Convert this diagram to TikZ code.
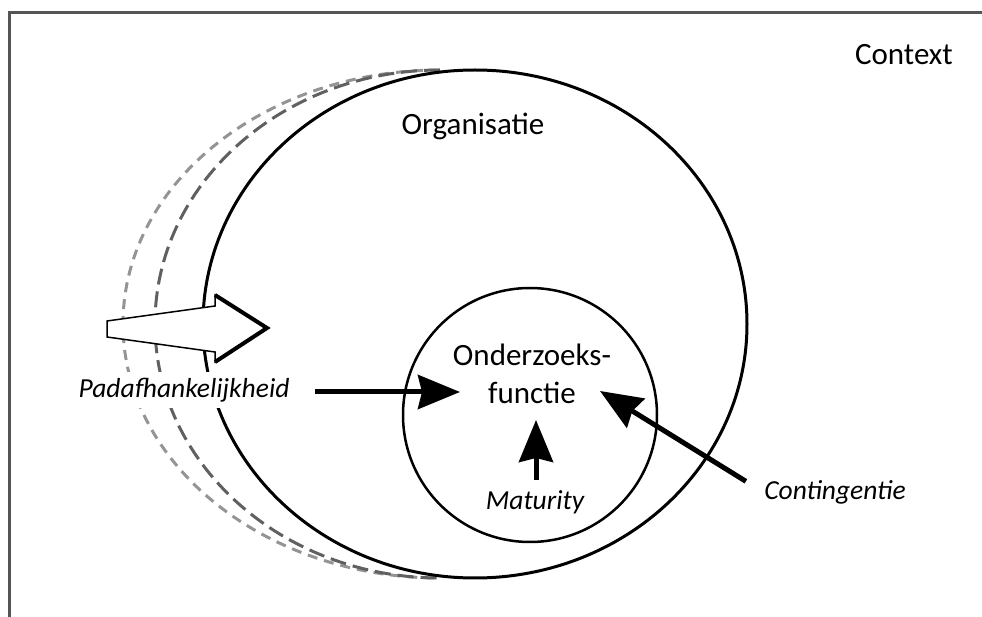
\documentclass[tikz,border=0pt]{standalone}
\usepackage{fontspec}
\setmainfont{Carlito}
\usetikzlibrary{arrows.meta}
\definecolor{kader}{HTML}{555555}
\definecolor{donker}{HTML}{606060}
\definecolor{licht}{HTML}{949494}

\begin{document}
\begin{tikzpicture}[x=0.5pt, y=0.5pt,
    label/.style={inner sep=0pt, font=\fontsize{15.5}{19}\selectfont},
    schuin/.style={inner sep=0pt, font=\fontsize{13.75}{16}\selectfont\itshape},
    pijl/.style={line width=2.5pt, -{Stealth[length=21pt, width=17pt, inset=2pt]}}]
      \useasboundingbox (0,0) rectangle (982,617);
      \draw [kader, line width=1.5pt] (9.5,0) -- (9.5,604.5) -- (982,604.5);

      % paths of the organisation in the past
      \draw [licht, line width=1.5pt, dash pattern=on 5pt off 3.5pt] (440,547) arc [start angle=90, end angle=270, x radius=317, y radius=254];
      \draw [donker, line width=1.5pt, dash pattern=on 8pt off 3.5pt] (440,547) arc [start angle=90, end angle=270, x radius=285, y radius=254];

      \draw [line width=1.5pt] (475,293) ellipse [x radius=272, y radius=254];
      \draw [line width=1.25pt] (530,202) circle [radius=127];

      % block arrow
      \draw [fill=white, line width=0.75pt] (107,296) -- (215,311) -- (215,322) -- (267,289) -- (215,255) -- (215,265) -- (107,280) -- cycle;
      \draw [line width=2pt, miter limit=10] (215,322) -- (267,289) -- (215,255);

      \node [label] (ctx) at (904,562) {Context};
      \node [label] (org) at (473,491) {Organisatie};
      \node [label, align=center] (func) at (532,243) {Onderzoeks-\\functie};
      \node [schuin, fill=white, inner sep=3pt] (pad) at (184,227) {Padafhankelijkheid};
      \node [schuin] (mat) at (535,115) {Maturity};
      \node [schuin] (con) at (835,125) {Contingentie};

      \coordinate (padtip) at (460,225);
      \coordinate (mattip) at (536,197);
      \coordinate (contip) at (600,226);

      \draw [pijl] ([xshift=9.5pt]pad.east |- padtip) -- (padtip);
      \draw [pijl] ([yshift=5pt]mat.north -| mattip) -- (mattip);
      \draw [pijl] ([shift={(-9pt,-0.8pt)}]con.north west) -- (contip);
    \end{tikzpicture}
\end{document}
